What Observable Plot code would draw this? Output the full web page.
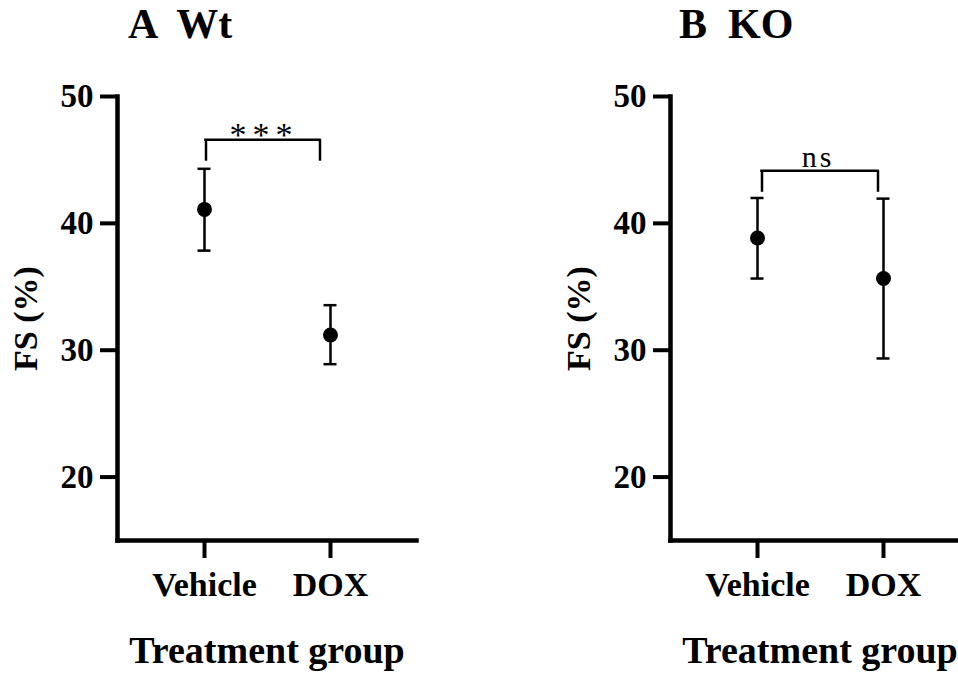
<!DOCTYPE html>
<html>
<head>
<meta charset="utf-8">
<script src="https://cdn.jsdelivr.net/npm/d3@7"></script>
<script src="https://cdn.jsdelivr.net/npm/@observablehq/plot@0.6"></script>
<style>
  html, body { margin: 0; padding: 0; background: #fff; }
  #wrap { position: relative; width: 958px; height: 673px; overflow: hidden; background: #fff;
          font-family: "Liberation Serif", "Times New Roman", serif; color: #000; }
  .panel { position: absolute; top: 0; width: 479px; height: 673px; }
  .panel svg { max-width: none !important; display: block; }
  .title { position: absolute; top: 3px; font-size: 42px; line-height: 42px; font-weight: bold; white-space: pre; }
</style>
</head>
<body>
<div id="wrap"></div>
<script>
// ---- data ----
const groups = ["Vehicle", "DOX"];
const wtMean  = [41.1, 31.2];
const wtLower = [37.85, 28.9];
const wtUpper = [44.3, 33.55];
const koMean  = [38.85, 35.65];
const koLower = [35.65, 29.35];
const koUpper = [42.0, 41.95];
const yTicks = [20, 30, 40, 50];
const yDomain = [15, 50];
const panelTitles = ["A  Wt", "B  KO"];
const sigLabels = ["***", "ns"];
const bracketTop = [46.6, 44.15];
const bracketLeg = [44.9, 42.45];
const xLabel = "Treatment group";
const yLabel = "FS (%)";

const ink = "#000";
const serif = "'Liberation Serif','Times New Roman',serif";

function makePanel(mean, lower, upper, sig, bTop, bLeg, o) {
  const rows = groups.map((g, i) => ({g, m: mean[i], lo: lower[i], hi: upper[i]}));
  const bracket = [{a: groups[0], b: groups[1], top: bTop, leg: bLeg, sig}];
  const svg = Plot.plot({
    width: 479,
    height: 673,
    marginLeft: 117,
    marginRight: 63,
    marginTop: 96,
    marginBottom: 133,
    style: {fontFamily: serif, color: ink, background: "transparent", overflow: "visible"},
    x: {type: "point", domain: groups, padding: 0.68},
    y: {type: "linear", domain: yDomain},
    marks: [
      Plot.frame({anchor: "left", stroke: ink, strokeWidth: 4.5, strokeLinecap: "square"}),
      Plot.frame({anchor: "bottom", stroke: ink, strokeWidth: 4.5, strokeLinecap: "square"}),
      Plot.axisY({ticks: yTicks, tickSize: 17, tickPadding: 7, strokeWidth: 4, fontSize: 33, fontWeight: "bold", label: null}),
      Plot.axisY({ticks: [], tickSize: 0, label: yLabel, labelAnchor: "center", labelOffset: 105, labelArrow: "none", fontSize: 34, fontWeight: "bold"}),
      Plot.axisX({tickSize: 18, tickPadding: 13, strokeWidth: 4, fontSize: 34, fontWeight: "bold", label: null}),
      Plot.axisX({ticks: [], tickSize: 0, label: xLabel, labelAnchor: "center", labelOffset: 122, labelArrow: "none", fontSize: 38, fontWeight: "bold"}),
      Plot.ruleX(rows, {x: "g", y1: "lo", y2: "hi", stroke: ink, strokeWidth: 2.5}),
      Plot.ruleY(rows, {x1: "g", x2: "g", y: "lo", insetLeft: -6.5, insetRight: -6.5, stroke: ink, strokeWidth: 2.5}),
      Plot.ruleY(rows, {x1: "g", x2: "g", y: "hi", insetLeft: -6.5, insetRight: -6.5, stroke: ink, strokeWidth: 2.5}),
      Plot.dot(rows, {x: "g", y: "m", r: 7.5, fill: ink, stroke: null}),
      Plot.ruleY(bracket, {x1: "a", x2: "b", y: "top", insetLeft: o.l - 1.25, insetRight: o.r - 1.25, stroke: ink, strokeWidth: 2.5}),
      Plot.ruleX(bracket, {x: "a", y1: "leg", y2: "top", dx: o.l, stroke: ink, strokeWidth: 2.5}),
      Plot.ruleX(bracket, {x: "b", y1: "leg", y2: "top", dx: -o.r, stroke: ink, strokeWidth: 2.5}),
      Plot.text(bracket, {y: "top", text: "sig", frameAnchor: "middle", lineAnchor: "bottom", dx: o.tx, dy: o.ty,
                          fontSize: o.fs, fontWeight: "normal", fill: ink})
    ]
  });
  d3.select(svg).selectAll("text").filter(function () { return this.textContent === sig; })
    .style("letter-spacing", o.ls + "px");
  return svg;
}

const wrap = document.getElementById("wrap");
function addPanel(left, svg, title, titleLeft) {
  const div = document.createElement("div");
  div.className = "panel";
  div.style.left = left + "px";
  div.appendChild(svg);
  wrap.appendChild(div);
  const t = document.createElement("div");
  t.className = "title";
  t.style.left = titleLeft + "px";
  t.textContent = title;
  wrap.appendChild(t);
}

addPanel(0, makePanel(wtMean, wtLower, wtUpper, sigLabels[0], bracketTop[0], bracketLeg[0],
  {l: 1.5, r: 10.5, tx: -3, ty: 6, fs: 34, ls: 6}), panelTitles[0], 128);
addPanel(553, makePanel(koMean, koLower, koUpper, sigLabels[1], bracketTop[1], bracketLeg[1],
  {l: 4.5, r: 5.5, tx: -2, ty: -4, fs: 30, ls: 3}), panelTitles[1], 679);
</script>
</body>
</html>
